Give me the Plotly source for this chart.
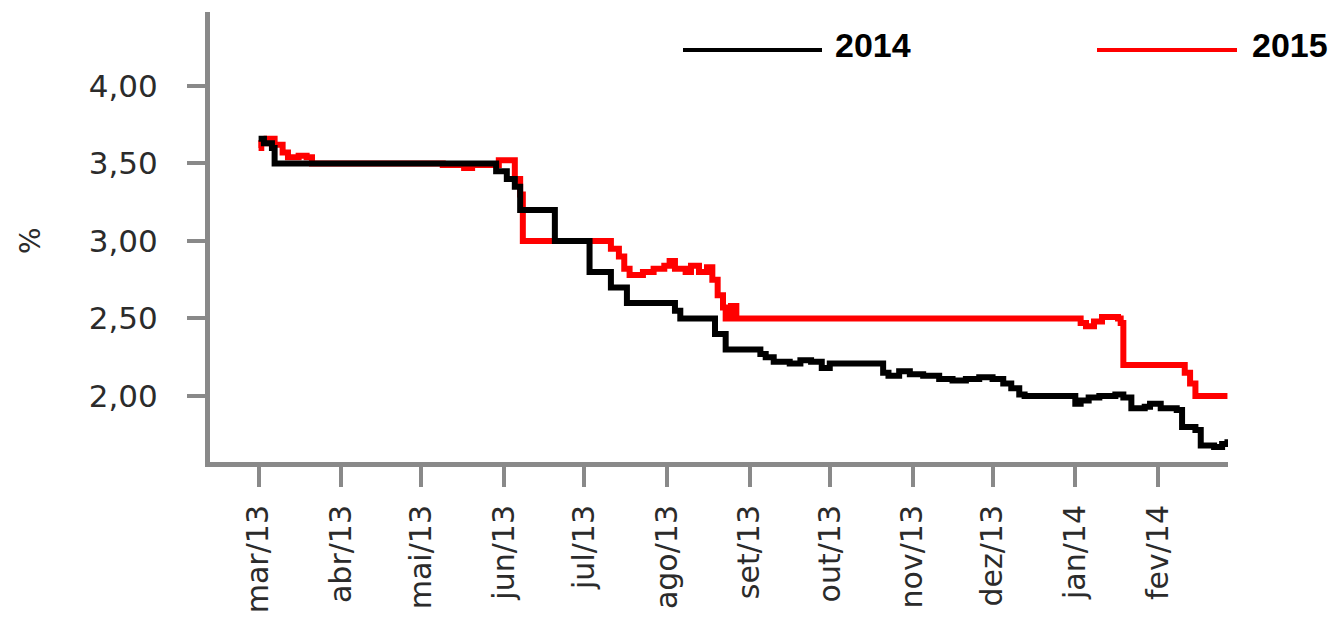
import plotly.graph_objects as go

# ---- data ----
dates_2014 = ["2013-03-01", "2013-03-03", "2013-03-06", "2013-03-07", "2013-05-29", "2013-06-02",
              "2013-06-05", "2013-06-07", "2013-06-20", "2013-07-03", "2013-07-11", "2013-07-17",
              "2013-08-04", "2013-08-06", "2013-08-19", "2013-08-23", "2013-09-05", "2013-09-07",
              "2013-09-10", "2013-09-16", "2013-09-20", "2013-09-24", "2013-09-28", "2013-10-01",
              "2013-10-21", "2013-10-23", "2013-10-27", "2013-10-31", "2013-11-05", "2013-11-11",
              "2013-11-16", "2013-11-21", "2013-11-26", "2013-12-01", "2013-12-05", "2013-12-08",
              "2013-12-11", "2013-12-13", "2014-01-01", "2014-01-03", "2014-01-06", "2014-01-10",
              "2014-01-16", "2014-01-19", "2014-01-22", "2014-01-27", "2014-01-29", "2014-02-02",
              "2014-02-08", "2014-02-10", "2014-02-15", "2014-02-17", "2014-02-22", "2014-02-25",
              "2014-02-27"]
values_2014 = [3.66, 3.63, 3.60, 3.50, 3.45, 3.40,
               3.35, 3.20, 3.00, 2.80, 2.70, 2.60,
               2.55, 2.50, 2.40, 2.30, 2.27, 2.25,
               2.22, 2.21, 2.23, 2.22, 2.18, 2.21,
               2.15, 2.13, 2.16, 2.14, 2.13, 2.11,
               2.10, 2.11, 2.12, 2.11, 2.08, 2.05,
               2.01, 2.00, 1.95, 1.97, 1.99, 2.00,
               2.01, 1.99, 1.92, 1.93, 1.95, 1.92,
               1.91, 1.80, 1.78, 1.68, 1.67, 1.69,
               1.72]

dates_2015 = ["2013-03-01", "2013-03-02", "2013-03-04", "2013-03-07", "2013-03-10", "2013-03-12",
              "2013-03-16", "2013-03-19", "2013-03-21", "2013-05-09", "2013-05-17", "2013-05-20",
              "2013-05-30", "2013-06-05", "2013-06-07", "2013-06-08", "2013-07-11", "2013-07-14",
              "2013-07-16", "2013-07-18", "2013-07-23", "2013-07-27", "2013-07-31", "2013-08-02",
              "2013-08-04", "2013-08-08", "2013-08-10", "2013-08-13", "2013-08-16", "2013-08-18",
              "2013-08-20", "2013-08-22", "2013-08-23", "2013-08-25", "2013-08-27", "2014-01-03",
              "2014-01-05", "2014-01-08", "2014-01-11", "2014-01-17", "2014-01-18", "2014-01-19",
              "2014-02-11", "2014-02-13", "2014-02-15", "2014-02-27"]
values_2015 = [3.60, 3.63, 3.66, 3.62, 3.57, 3.54,
               3.55, 3.54, 3.50, 3.49, 3.47, 3.49,
               3.52, 3.40, 3.30, 3.00, 2.95, 2.90,
               2.82, 2.78, 2.80, 2.82, 2.84, 2.87,
               2.82, 2.80, 2.84, 2.80, 2.83, 2.75,
               2.65, 2.57, 2.50, 2.58, 2.50, 2.47,
               2.45, 2.48, 2.51, 2.50, 2.47, 2.20,
               2.15, 2.08, 2.00, 2.00]

tick_dates = ["2013-03-01", "2013-04-01", "2013-05-01", "2013-06-01", "2013-07-01", "2013-08-01",
              "2013-09-01", "2013-10-01", "2013-11-01", "2013-12-01", "2014-01-01", "2014-02-01"]
tick_labels = ["mar/13", "abr/13", "mai/13", "jun/13", "jul/13", "ago/13",
               "set/13", "out/13", "nov/13", "dez/13", "jan/14", "fev/14"]
y_ticks = [2.0, 2.5, 3.0, 3.5, 4.0]
y_tick_labels = ["2,00", "2,50", "3,00", "3,50", "4,00"]
series_names = ["2014", "2015"]

AXIS = "#898989"
TXT = "#2b2b2b"
fig = go.Figure()
fig.add_trace(go.Scatter(x=dates_2015, y=values_2015, mode="lines", name=series_names[1],
                         line=dict(color="#ff0000", width=6, shape="hv"), showlegend=False))
fig.add_trace(go.Scatter(x=dates_2014, y=values_2014, mode="lines", name=series_names[0],
                         line=dict(color="#000000", width=6, shape="hv"), showlegend=False))

fig.update_layout(
    width=1334, height=617,
    margin=dict(l=210, r=106, t=12, b=155, autoexpand=False),
    plot_bgcolor="white", paper_bgcolor="white",
    font=dict(family="DejaVu Sans", color=TXT),
)
fig.update_xaxes(
    type="date", range=["2013-02-10 19:00", "2014-02-27 05:00"],
    tickvals=tick_dates, ticktext=tick_labels, tickangle=-90,
    tickfont=dict(family="DejaVu Sans", size=30, color=TXT),
    showgrid=False, zeroline=False, automargin=False,
    showline=True, linecolor=AXIS, linewidth=5,
    ticks="outside", ticklen=20, tickwidth=4, tickcolor=AXIS,
    ticklabelstandoff=6,
)
fig.update_yaxes(
    range=[1.574, 4.477],
    tickvals=y_ticks, ticktext=y_tick_labels,
    tickfont=dict(family="DejaVu Sans", size=31, color=TXT),
    showgrid=False, zeroline=False, automargin=False,
    showline=True, linecolor=AXIS, linewidth=5,
    ticks="outside", ticklen=18, tickwidth=4, tickcolor=AXIS,
    ticklabelstandoff=23,
)

# y title
fig.add_annotation(text="%", xref="paper", yref="paper", x=(30 - 210) / 1018, y=(462 - 241) / 450,
                   xanchor="center", yanchor="middle",
                   textangle=-90, showarrow=False,
                   font=dict(family="DejaVu Sans", size=28, color=TXT))

# manual legend
leg = [(series_names[0], "#000000", 683, 822, 833), (series_names[1], "#ff0000", 1097, 1237, 1250)]
pw = 1334 - 210 - 106
ph = 617 - 12 - 155
for name, col, x0, x1, xt in leg:
    fig.add_shape(type="line", xref="paper", yref="paper",
                  x0=(x0 - 210) / pw, x1=(x1 - 210) / pw,
                  y0=(462 - 50) / ph, y1=(462 - 50) / ph,
                  line=dict(color=col, width=4))
    fig.add_annotation(text="<b>%s</b>" % name, xref="paper", yref="paper",
                       x=(xt - 210) / pw, y=(462 - 45) / ph, xanchor="left", yanchor="middle",
                       showarrow=False,
                       font=dict(family="Liberation Sans", size=34, color="#000000"))

fig.write_html("out.html", config={"displayModeBar": False},
               post_script="document.body.style.margin='0';document.body.style.overflow='hidden';")
